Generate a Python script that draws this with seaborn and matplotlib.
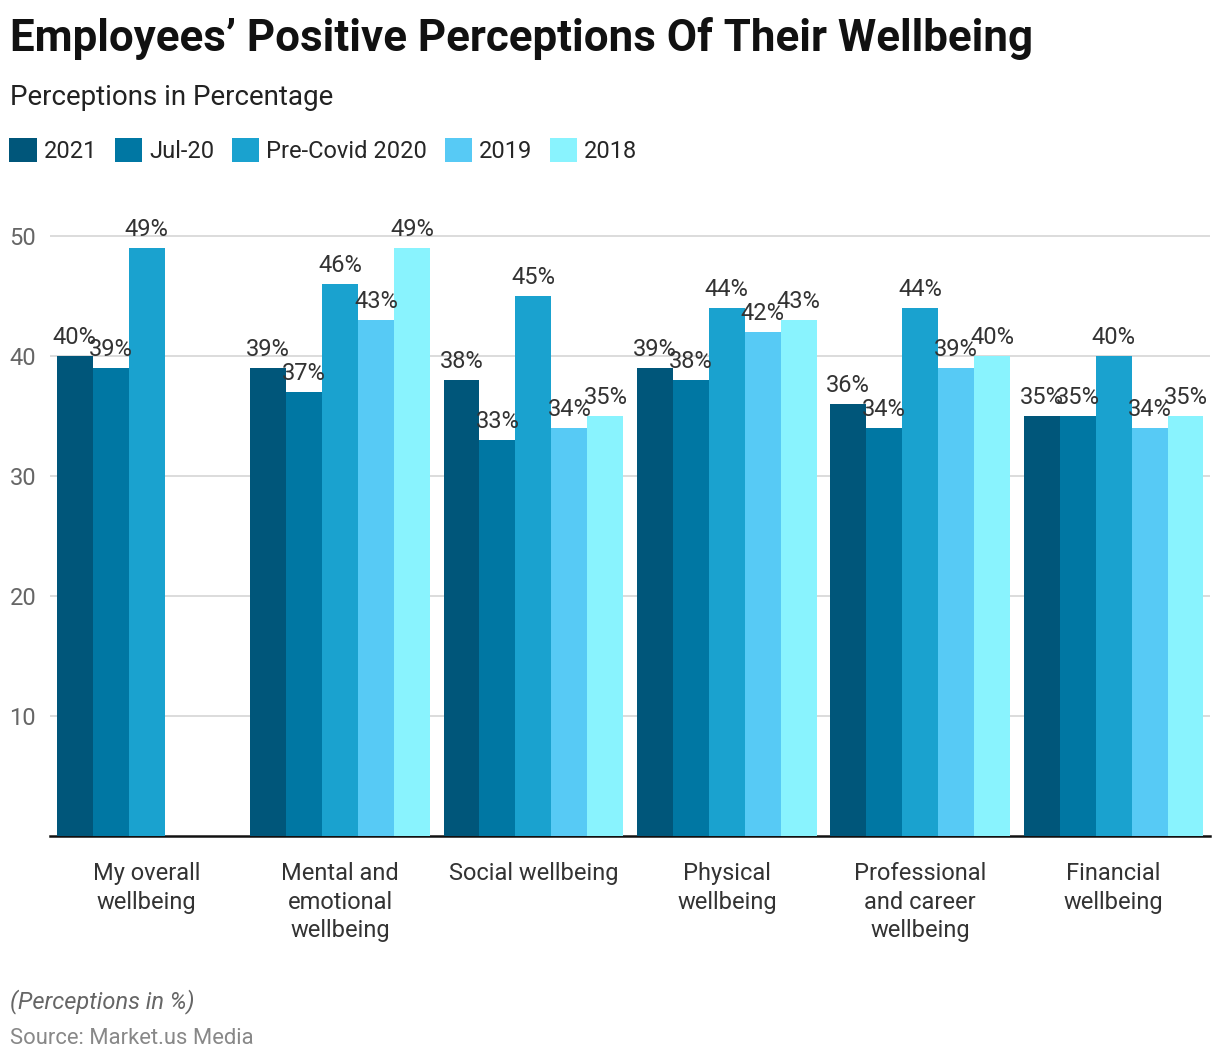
import matplotlib

matplotlib.use("Agg")
import matplotlib.pyplot as plt
import numpy as np
import pandas as pd
import seaborn as sns

categories = [
    "My overall\nwellbeing",
    "Mental and\nemotional\nwellbeing",
    "Social wellbeing",
    "Physical\nwellbeing",
    "Professional\nand career\nwellbeing",
    "Financial\nwellbeing",
]
series = ["2021", "Jul-20", "Pre-Covid 2020", "2019", "2018"]
v2021 = [40, 39, 38, 39, 36, 35]
vjul20 = [39, 37, 33, 38, 34, 35]
vprecovid = [49, 46, 45, 44, 44, 40]
v2019 = [np.nan, 43, 34, 42, 39, 34]
v2018 = [np.nan, 49, 35, 43, 40, 35]
colors = ["#00567a", "#0077a3", "#1aa2cf", "#57caf5", "#89f3fe"]

rows = []
for name, vals in zip(series, [v2021, vjul20, vprecovid, v2019, v2018]):
    for cat, v in zip(categories, vals):
        rows.append({"category": cat, "series": name, "value": v})
df = pd.DataFrame(rows).dropna()

sns.set_style("white")
plt.rcParams["font.family"] = ["Roboto", "DejaVu Sans"]

fig = plt.figure(figsize=(12.2, 10.62), dpi=100)
ax = fig.add_axes([0.041, 0.2128, 0.951, 0.5876])

sns.barplot(
    data=df, x="category", y="value", hue="series",
    order=categories, hue_order=series, palette=colors,
    saturation=1, width=0.93, errorbar=None, ax=ax, zorder=3,
    linewidth=0, edgecolor="none",
)

for cont in ax.containers:
    ax.bar_label(cont, fmt="%d%%", padding=5, fontsize=17, color="#333333")

ax.set_ylim(0, 52)
ax.set_xlim(-0.5, 5.5)
ax.set_yticks([10, 20, 30, 40, 50])
ax.yaxis.grid(True, color="#d9d9d9", linewidth=1.3, zorder=0)
ax.set_axisbelow(True)
ax.set_xlabel("")
ax.set_ylabel("")
for s in ["left", "right", "top"]:
    ax.spines[s].set_visible(False)
ax.spines["bottom"].set_color("#111111")
ax.spines["bottom"].set_linewidth(1.8)
ax.tick_params(axis="y", length=0, labelsize=17, labelcolor="#666666", pad=10)
ax.tick_params(axis="x", length=7, width=1.5, color="#111111",
               labelsize=17, labelcolor="#333333", pad=12)
for lab in ax.get_xticklabels():
    lab.set_linespacing(1.3)

handles, labels = ax.get_legend_handles_labels()
ax.get_legend().remove()
fig.legend(handles, labels, loc="center left", bbox_to_anchor=(0.0, 0.858),
           ncol=5, frameon=False, fontsize=17, handlelength=1.15,
           handleheight=1.15, handletextpad=0.3, columnspacing=0.75,
           borderaxespad=0)

fig.text(0.008, 0.964, "Employees\u2019 Positive Perceptions Of Their Wellbeing",
         fontsize=31.6, fontweight="bold", color="#111111", va="center")
fig.text(0.008, 0.908, "Perceptions in Percentage", fontsize=20,
         color="#222222", va="center")
fig.text(0.008, 0.057, "(Perceptions in %)", fontsize=17, style="italic",
         color="#666666", va="center")
fig.text(0.008, 0.022, "Source: Market.us Media", fontsize=15.8,
         color="#888888", va="center")

fig.savefig("out.png", dpi=100)
